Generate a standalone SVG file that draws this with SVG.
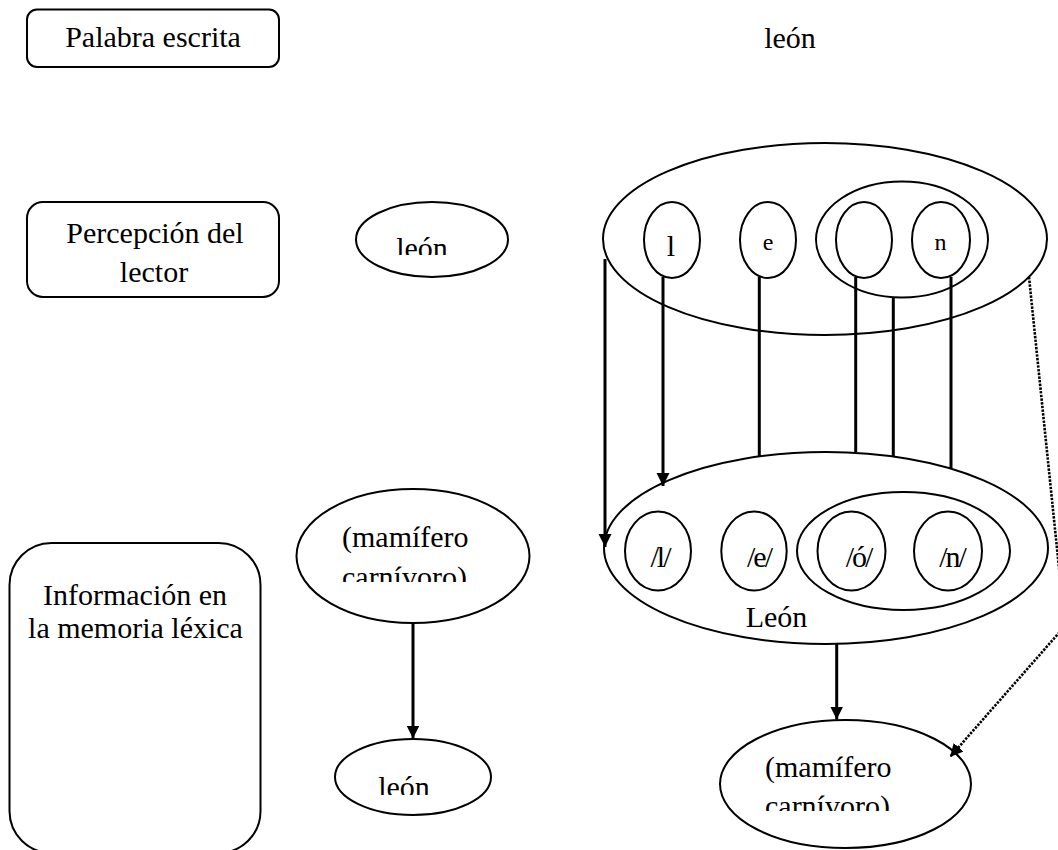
<svg xmlns="http://www.w3.org/2000/svg" width="1058" height="850" viewBox="0 0 1058 850">
<style>
text{font-family:"Liberation Serif","Times New Roman",serif;font-size:30px;fill:#000}
.box{fill:#fff;stroke:#000;stroke-width:2}
.el{fill:none;stroke:#000;stroke-width:2}
.ln{stroke:#000;stroke-width:3;fill:none}
.dot{stroke:#000;stroke-width:2.6;fill:none;stroke-dasharray:2.4 1.3}
.c{text-anchor:middle}
.ph{letter-spacing:-2px}
.sm{font-size:24px}
</style>
<defs>
<marker id="ah" markerUnits="userSpaceOnUse" markerWidth="14" markerHeight="14" refX="13" refY="6.5" orient="auto">
<path d="M0,0 L13,6.5 L0,13 z" fill="#000"/>
</marker>
<clipPath id="clipLeonTop"><rect x="340" y="190" width="180" height="65"/></clipPath>
<clipPath id="clipMamL"><rect x="290" y="480" width="250" height="102"/></clipPath>
<clipPath id="clipLeonBot"><rect x="330" y="730" width="170" height="65"/></clipPath>
<clipPath id="clipMamR"><rect x="715" y="715" width="260" height="96"/></clipPath>
</defs>
<rect width="1058" height="850" fill="#fff"/>

<g id="palabra-escrita">
<rect class="box" x="27" y="9.5" width="252" height="57.5" rx="10" ry="10"/>
<text class="c" x="153" y="47">Palabra escrita</text>
</g>

<g id="leon-escrito">
<text class="c" x="790" y="48">león</text>
</g>

<g id="percepcion-lector">
<rect class="box" x="27" y="202" width="252" height="95" rx="16" ry="16"/>
<text class="c" x="155" y="243">Percepción del</text>
<text class="c" x="154" y="282">lector</text>
</g>

<g id="leon-percibido">
<ellipse class="el" cx="432" cy="239.5" rx="76" ry="37.5"/>
<text class="c" x="422" y="257.5" clip-path="url(#clipLeonTop)">león</text>
</g>

<g id="percepcion-letras">
<ellipse class="el" cx="825" cy="239" rx="222" ry="96"/>
<ellipse class="el" cx="672" cy="240" rx="28" ry="38"/>
<text class="c" x="671" y="256">l</text>
<ellipse class="el" cx="768" cy="240" rx="28" ry="38"/>
<text class="c sm" x="768" y="250">e</text>
<ellipse class="el" cx="902" cy="239.5" rx="86" ry="58"/>
<ellipse class="el" cx="864" cy="240" rx="28" ry="38"/>
<ellipse class="el" cx="941" cy="240" rx="29" ry="38"/>
<text class="c sm" x="940.5" y="250">n</text>
</g>

<g id="informacion-memoria">
<rect class="box" x="9.5" y="543" width="251" height="310" rx="42" ry="42"/>
<text class="c" x="135" y="605">Información en</text>
<text class="c" x="135.5" y="638">la memoria léxica</text>
</g>

<g id="mamifero-izq">
<ellipse class="el" cx="413" cy="556" rx="116.5" ry="67"/>
<g clip-path="url(#clipMamL)">
<text x="342" y="547">(mamífero</text>
<text x="342" y="587">carnívoro)</text>
</g>
</g>

<g id="leon-memoria">
<ellipse class="el" cx="413" cy="777" rx="78" ry="38"/>
<text class="c" x="404" y="797" clip-path="url(#clipLeonBot)">león</text>
</g>

<g id="fonemas-leon">
<ellipse class="el" cx="826" cy="548" rx="222" ry="96"/>
<ellipse class="el" cx="658" cy="551" rx="33" ry="39.5"/>
<text class="c ph" x="660" y="567">/l/</text>
<ellipse class="el" cx="754" cy="551" rx="32.7" ry="39.5"/>
<text class="c ph" x="759" y="567">/e/</text>
<ellipse class="el" cx="903.5" cy="551" rx="106.5" ry="59"/>
<ellipse class="el" cx="851.5" cy="551" rx="34" ry="39.5"/>
<text class="c ph" x="858.5" y="567">/ó/</text>
<ellipse class="el" cx="948" cy="551" rx="34" ry="39.5"/>
<text class="c ph" x="952" y="567">/n/</text>
<text class="c" x="776.5" y="627">León</text>
</g>

<g id="mamifero-der">
<ellipse class="el" cx="845.5" cy="784" rx="125.5" ry="64"/>
<g clip-path="url(#clipMamR)">
<text x="765" y="777">(mamífero</text>
<text x="765" y="815.5">carnívoro)</text>
</g>
</g>

<g id="connectors">
<line class="ln" x1="605" y1="259" x2="605" y2="547" marker-end="url(#ah)"/>
<line class="ln" x1="663" y1="277" x2="663" y2="486" marker-end="url(#ah)"/>
<line class="ln" x1="759.3" y1="277" x2="759.3" y2="456"/>
<line class="ln" x1="855.7" y1="277" x2="855.7" y2="452"/>
<line class="ln" x1="893.3" y1="297" x2="893.3" y2="456"/>
<line class="ln" x1="951" y1="277" x2="951" y2="468.5"/>
<line class="ln" x1="413" y1="623" x2="413" y2="738.5" marker-end="url(#ah)"/>
<line class="ln" x1="836.7" y1="643" x2="836.7" y2="719.5" marker-end="url(#ah)"/>
<path class="dot" d="M1029,277 L1065,626 L950,757" marker-end="url(#ah)"/>
</g>
</svg>
